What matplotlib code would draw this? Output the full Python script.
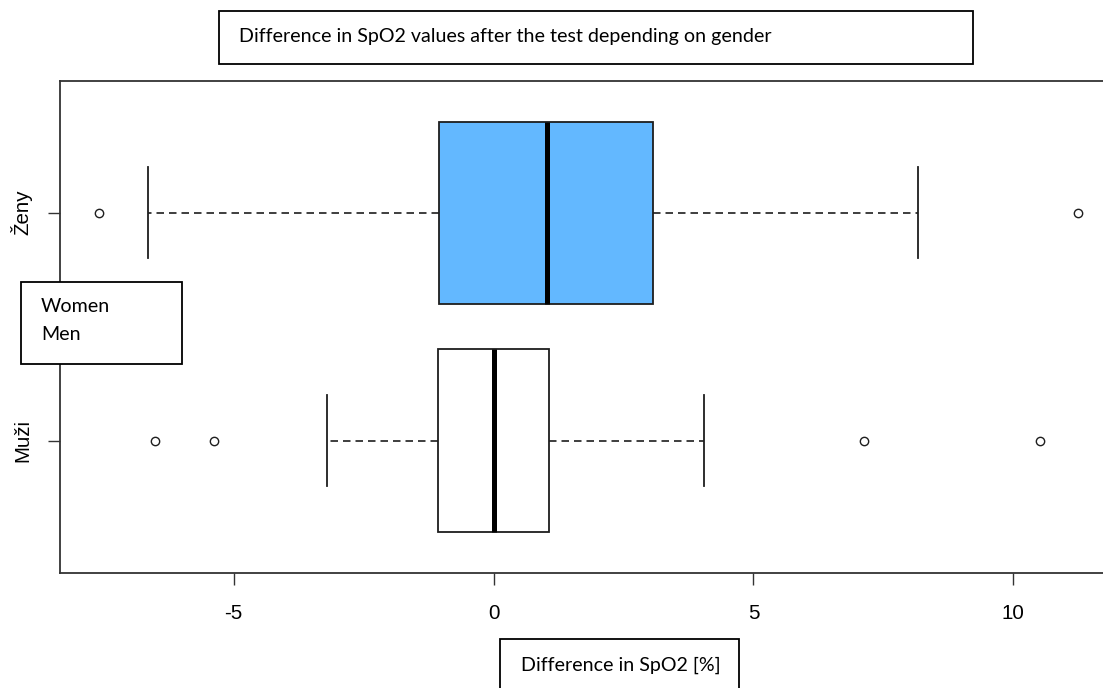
import matplotlib.pyplot as plt
from matplotlib.patches import Rectangle

# summary statistics of the SpO2 change, one entry per group (bottom to top)
groups = ["Muži", "Ženy"]
whisker_low = [-3.2, -6.65]
q1 = [-1.07, -1.05]
median = [0.0, 1.03]
q3 = [1.07, 3.06]
whisker_high = [4.05, 8.17]
outliers = [[-6.52, -5.38, 7.13, 10.52], [-7.59, 11.24]]
box_colors = ["white", "#63B8FF"]

x_ticks = [-5, 0, 5, 10]

W, H = 1103, 688
fig = plt.figure(figsize=(W / 100, H / 100), dpi=100)

# plot region in pixels: left 60, top 80.5, bottom 572.7, right edge runs off the page
left, top, bottom, right = 59.8, 80.5, 572.7, 1117
ax = fig.add_axes([left / W, 1 - bottom / H, (right - left) / W, (bottom - top) / H])

stats = []
for i, name in enumerate(groups):
    stats.append(dict(label=name, whislo=whisker_low[i], q1=q1[i], med=median[i],
                      q3=q3[i], whishi=whisker_high[i], fliers=outliers[i]))

line_col = "#1e1e1e"
bp = ax.bxp(stats, positions=[1, 2], widths=0.8, capwidths=0.4,
            orientation="horizontal", patch_artist=True,
            boxprops=dict(edgecolor=line_col, linewidth=1.3),
            medianprops=dict(color="black", linewidth=3.6, solid_capstyle="butt"),
            whiskerprops=dict(color=line_col, linewidth=1.2, linestyle=(0, (4.5, 3))),
            capprops=dict(color=line_col, linewidth=1.3),
            flierprops=dict(marker="o", markerfacecolor="none", markeredgecolor=line_col,
                            markersize=6, markeredgewidth=1.0))
for patch, c in zip(bp["boxes"], box_colors):
    patch.set_facecolor(c)

lo = min(min(o) for o in outliers)
hi = max(max(o) for o in outliers)
pad = 0.04 * (hi - lo)
ax.set_xlim(lo - pad, hi + pad)
ax.set_ylim(0.42, 2.58)

ax.set_xticks(x_ticks, [str(t) for t in x_ticks])
ax.set_yticks([1, 2], groups)
for lab in ax.get_yticklabels():
    lab.set_rotation(90)
    lab.set_va("center")
ax.tick_params(axis="both", length=8.6, width=1.0, color="#333333",
               labelsize=14.8, labelfontfamily="Liberation Sans", labelcolor="black")
ax.tick_params(axis="x", pad=14)
ax.tick_params(axis="y", pad=11.5)
for s in ax.spines.values():
    s.set_color("#333333")
    s.set_linewidth(1.3)


def text_box(x0, y0, x1, y1):
    fig.add_artist(Rectangle((x0 / W, 1 - y1 / H), (x1 - x0) / W, (y1 - y0) / H,
                             transform=fig.transFigure, facecolor="white",
                             edgecolor="black", linewidth=1.3, zorder=5))


def box_text(x, y, s):
    fig.text(x / W, 1 - y / H, s, ha="left", va="center", family="Lato",
             fontsize=14.1, color="black", zorder=6)


# title box
text_box(219.3, 11, 972.7, 64.3)
box_text(239, 36.5, "Difference in SpO2 values after the test depending on gender")

# group names box
text_box(20.5, 282.3, 181.5, 364.3)
box_text(41, 306.5, "Women")
box_text(41, 334, "Men")

# x axis caption box
text_box(500, 639, 739, 700)
box_text(521, 665.5, "Difference in SpO2 [%]")

fig.savefig("out.png", dpi=100)
